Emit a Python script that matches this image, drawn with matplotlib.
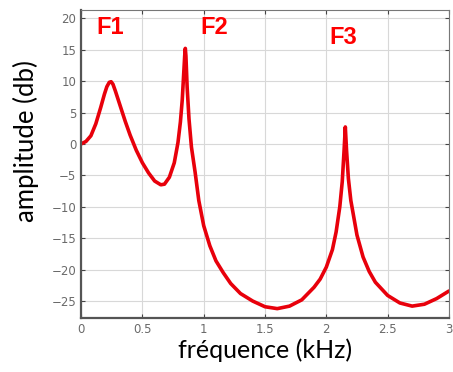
import matplotlib
matplotlib.use("Agg")
import matplotlib.pyplot as plt

# spectre (kHz, dB)
freq_khz = [0.00, 0.04, 0.08, 0.12, 0.16, 0.19, 0.21, 0.23, 0.245, 0.26,
            0.28, 0.32, 0.36, 0.40, 0.45, 0.50, 0.55, 0.60, 0.65, 0.68,
            0.72, 0.76, 0.79, 0.81, 0.825, 0.835, 0.845, 0.85, 0.855, 0.865,
            0.88, 0.90, 0.93, 0.96, 1.00, 1.05, 1.10, 1.16, 1.22, 1.30,
            1.40, 1.50, 1.60, 1.70, 1.80, 1.90, 1.95, 2.00, 2.05, 2.08,
            2.11, 2.13, 2.145, 2.155, 2.165, 2.18, 2.20, 2.25, 2.30, 2.35,
            2.40, 2.50, 2.60, 2.70, 2.80, 2.90, 3.00]
amp_db = [0.0, 0.4, 1.3, 3.2, 5.8, 7.9, 9.1, 9.8, 9.9, 9.5,
          8.4, 6.0, 3.6, 1.4, -1.0, -3.0, -4.6, -5.9, -6.5, -6.4,
          -5.3, -3.0, 0.2, 3.5, 7.0, 10.5, 14.0, 15.2, 14.0, 9.0,
          4.0, -0.5, -4.5, -9.0, -13.0, -16.2, -18.6, -20.5, -22.2, -23.8,
          -25.0, -25.9, -26.2, -25.8, -24.8, -22.8, -21.5, -19.6, -16.8, -14.0,
          -10.0, -6.0, -1.0, 2.7, -1.0, -5.5, -9.0, -14.5, -18.0, -20.3,
          -22.0, -24.1, -25.3, -25.8, -25.5, -24.6, -23.4]

formants = ["F1", "F2", "F3"]
formant_x = [0.24, 1.09, 2.14]
formant_y = [18.6, 18.6, 17.0]

xticks = [0, 0.5, 1, 1.5, 2, 2.5, 3]
xtick_labels = ["0", "0.5", "1", "1.5", "2", "2.5", "3"]
yticks = [-25, -20, -15, -10, -5, 0, 5, 10, 15, 20]

fig = plt.figure(figsize=(4.53, 3.72), dpi=100)
ax = fig.add_axes([0.179, 0.145, 0.812, 0.828])

ax.plot(freq_khz, amp_db, color="#e8000b", linewidth=2.6,
        solid_joinstyle="round", solid_capstyle="round")

for name, fx, fy in zip(formants, formant_x, formant_y):
    ax.text(fx, fy, name, color="#ff0000", fontsize=17, fontweight="bold",
            family="Liberation Sans", ha="center", va="center")

ax.set_xlim(0, 3)
ax.set_ylim(-27.7, 21.3)
ax.set_xticks(xticks)
ax.set_xticklabels(xtick_labels)
ax.set_yticks(yticks)
ax.grid(True, color="#d8d8d8", linewidth=0.8)
ax.tick_params(direction="in", top=True, right=True, length=3,
               labelsize=8.5, labelcolor="#6a6a6a", color="#444444")
for side in ("left", "bottom"):
    ax.spines[side].set_linewidth(1.6)
    ax.spines[side].set_color("#555555")
for side in ("top", "right"):
    ax.spines[side].set_linewidth(0.8)
    ax.spines[side].set_color("#777777")

ax.set_xlabel("fréquence (kHz)", fontsize=18, family="Lato", labelpad=2)
ax.set_ylabel("amplitude (db)", fontsize=18.5, family="Lato")
ax.yaxis.set_label_coords(-0.115, 0.575)

fig.savefig("out.png", dpi=100)
